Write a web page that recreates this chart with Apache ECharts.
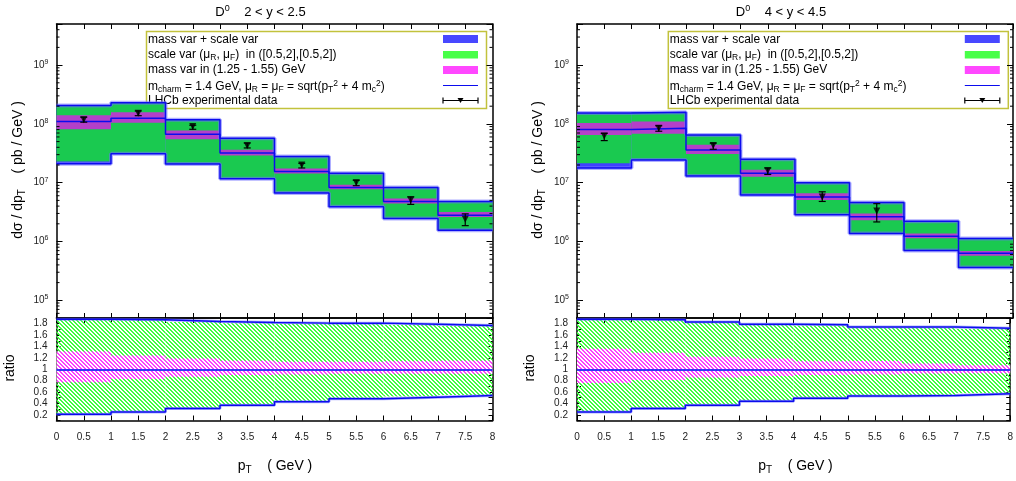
<!DOCTYPE html>
<html>
<head>
<meta charset="utf-8">
<title>D0 pT spectra</title>
<script src="https://cdn.jsdelivr.net/npm/echarts@6/dist/echarts.min.js"></script>
<style>
  html, body { margin: 0; padding: 0; background: #fff; }
  #chart { width: 1016px; height: 481px; }
</style>
</head>
<body>
<div id="chart"></div>
<script>
// pT bins (GeV)
const binEdges = [0, 1, 2, 3, 4, 5, 6, 7, 8];
const binCentres = [0.5, 1.5, 2.5, 3.5, 4.5, 5.5, 6.5, 7.5];

// --- 2 < y < 2.5 (pb / GeV) ---
const centralA = [1.1e8, 1.25e8, 6.7e7, 3.2e7, 1.55e7, 8.3e6, 4.8e6, 2.8e6];
const totalHiA = [2.06e8, 2.3e8, 1.18e8, 5.7e7, 2.8e7, 1.45e7, 8.3e6, 4.8e6];
const totalLoA = [2.1e7, 3.1e7, 2.07e7, 1.17e7, 6.7e6, 3.9e6, 2.45e6, 1.55e6];
const scaleHiA = [2.05e8, 2.29e8, 1.17e8, 5.65e7, 2.78e7, 1.44e7, 8.25e6, 4.75e6];
const scaleLoA = [2.3e7, 3.15e7, 2.1e7, 1.19e7, 6.8e6, 3.95e6, 2.5e6, 1.57e6];
const massHiA = [1.41e8, 1.58e8, 7.7e7, 3.65e7, 1.75e7, 9.2e6, 5.4e6, 3.16e6];
const massLoA = [8.1e7, 1.05e8, 5.5e7, 2.9e7, 1.43e7, 7.7e6, 4.45e6, 2.6e6];
const lhcbA = [1.18e8, 1.52e8, 9.0e7, 4.27e7, 2.0e7, 1.0e7, 5.1e6, 2.4e6];
const lhcbHiA = [1.30e8, 1.66e8, 9.5e7, 4.73e7, 2.14e7, 1.10e7, 5.75e6, 2.95e6];
const lhcbLoA = [1.07e8, 1.38e8, 8.1e7, 3.9e7, 1.78e7, 8.9e6, 4.27e6, 1.86e6];
const ratioTotHiA = [1.88, 1.87, 1.84, 1.82, 1.81, 1.81, 1.79, 1.77];
const ratioTotLoA = [0.21, 0.25, 0.31, 0.37, 0.43, 0.48, 0.51, 0.54];
const ratioScHiA = [1.87, 1.86, 1.83, 1.81, 1.80, 1.80, 1.78, 1.76];
const ratioScLoA = [0.22, 0.26, 0.32, 0.38, 0.44, 0.49, 0.52, 0.55];
const ratioMassHiA = [1.31, 1.24, 1.19, 1.15, 1.13, 1.13, 1.14, 1.15];
const ratioMassLoA = [0.77, 0.83, 0.87, 0.90, 0.91, 0.92, 0.92, 0.92];

// --- 4 < y < 4.5 (pb / GeV) ---
const centralB = [8.0e7, 8.4e7, 3.6e7, 1.45e7, 5.7e6, 2.63e6, 1.23e6, 6.3e5];
const totalHiB = [1.53e8, 1.58e8, 6.5e7, 2.5e7, 1.0e7, 4.6e6, 2.2e6, 1.12e6];
const totalLoB = [1.78e7, 2.43e7, 1.3e7, 6.2e6, 2.86e6, 1.37e6, 7.0e5, 3.6e5];
const scaleHiB = [1.52e8, 1.57e8, 6.45e7, 2.48e7, 9.9e6, 4.55e6, 2.18e6, 1.11e6];
const scaleLoB = [2.15e7, 2.46e7, 1.32e7, 6.3e6, 2.9e6, 1.39e6, 7.1e5, 3.65e5];
const massHiB = [1.04e8, 1.10e8, 4.43e7, 1.66e7, 6.6e6, 3.0e6, 1.37e6, 6.9e5];
const massLoB = [6.5e7, 6.8e7, 3.07e7, 1.26e7, 5.1e6, 2.3e6, 1.14e6, 5.75e5];
const lhcbB = [6.2e7, 8.4e7, 4.3e7, 1.6e7, 5.7e6, 3.3e6];
const lhcbHiB = [6.9e7, 9.3e7, 4.7e7, 1.78e7, 7.0e6, 4.4e6];
const lhcbLoB = [5.2e7, 7.5e7, 3.7e7, 1.38e7, 4.8e6, 2.15e6];
const ratioTotHiB = [1.88, 1.87, 1.83, 1.79, 1.78, 1.74, 1.74, 1.72];
const ratioTotLoB = [0.25, 0.31, 0.37, 0.44, 0.49, 0.53, 0.54, 0.57];
const ratioScHiB = [1.87, 1.86, 1.82, 1.78, 1.77, 1.73, 1.73, 1.71];
const ratioScLoB = [0.26, 0.32, 0.38, 0.45, 0.50, 0.54, 0.55, 0.58];
const ratioMassHiB = [1.36, 1.29, 1.22, 1.19, 1.14, 1.145, 1.10, 1.07];
const ratioMassLoB = [0.76, 0.81, 0.855, 0.88, 0.90, 0.91, 0.925, 0.93];

const titles = ['2 < y < 2.5', '4 < y < 4.5'];
const legendTexts = [
    '{t|mass var + scale var}',
    '{t|scale var (μ}{sub|R}{t|, μ}{sub|F}{t|)  in ([0.5,2],[0.5,2])}',
    '{t|mass var in (1.25 - 1.55) GeV}',
    '{t|m}{sub|charm}{t| = 1.4 GeV, μ}{sub|R}{t| = μ}{sub|F}{t| = sqrt(p}{sub|T}{sup|2}{t| + 4 m}{sub|c}{sup|2}{t|)}',
    '{t|LHCb experimental data}'
];
const logMinorMultipliers = [2, 3, 4, 5, 6, 7, 8, 9];
const logDecades = [1e4, 1e5, 1e6, 1e7, 1e8, 1e9];

const FONT = '"Liberation Sans", Arial, sans-serif';
const BLUE = '#0c0cee';
const HALO = 'rgba(110,110,255,0.55)';
const GREEN = '#1ac950';
const PURPLE = '#b440c8';
const BLUE_FILL = '#4040ff';

const panels = [
    { left: 56.5, central: centralA, totHi: totalHiA, totLo: totalLoA, scHi: scaleHiA, scLo: scaleLoA,
      mHi: massHiA, mLo: massLoA, data: lhcbA, dHi: lhcbHiA, dLo: lhcbLoA,
      rTotHi: ratioTotHiA, rTotLo: ratioTotLoA, rScHi: ratioScHiA, rScLo: ratioScLoA,
      rMHi: ratioMassHiA, rMLo: ratioMassLoA },
    { left: 577, central: centralB, totHi: totalHiB, totLo: totalLoB, scHi: scaleHiB, scLo: scaleLoB,
      mHi: massHiB, mLo: massLoB, data: lhcbB, dHi: lhcbHiB, dLo: lhcbLoB,
      rTotHi: ratioTotHiB, rTotLo: ratioTotLoB, rScHi: ratioScHiB, rScLo: ratioScLoB,
      rMHi: ratioMassHiB, rMLo: ratioMassLoB }
];
const PLOT_W = 436;
const MAIN_TOP = 24, MAIN_H = 294, RATIO_TOP = 318, RATIO_H = 102.5;

function hatch(color, bg) {
    const c = document.createElement('canvas');
    c.width = 4; c.height = 4;
    const ctx = c.getContext('2d');
    if (bg) { ctx.fillStyle = bg; ctx.fillRect(0, 0, 4, 4); }
    ctx.fillStyle = color;
    for (let y = 0; y < 4; y++) {
        for (let x = 0; x < 4; x++) {
            if (((x - y) % 4 + 4) % 4 < 2) ctx.fillRect(x, y, 1, 1);
        }
    }
    return { image: c, repeat: 'repeat' };
}
const greenHatch = hatch('#40ff40', null);
const magentaHatch = hatch('#ff40ff', '#ffffff');

const axisLine = { show: true, onZero: false, lineStyle: { color: '#000', width: 1.5 } };

function xAxes(grid, withLabels) {
    const base = {
        type: 'value', gridIndex: grid, min: 0, max: 8, interval: 0.5,
        splitLine: { show: false }, axisLine,
        axisTick: { show: true, inside: true, length: 5, lineStyle: { color: '#000', width: 1 } }
    };
    return [
        { ...base, position: 'bottom', axisLabel: withLabels
            ? { show: true, margin: 12, fontSize: 10, color: '#222', fontFamily: FONT }
            : { show: false } },
        { ...base, position: 'top', axisLabel: { show: false } }
    ];
}

function powLabel(v) {
    const e = Math.log10(v);
    if (Math.abs(e - Math.round(e)) > 1e-6) return '';
    return '{b|10}{s|' + Math.round(e) + '}';
}

function yLogAxes(grid) {
    const base = {
        type: 'log', logBase: 10, gridIndex: grid, min: 5e4, max: 5e9,
        splitLine: { show: false }, axisLine,
        axisTick: { show: true, inside: true, length: 6, lineStyle: { color: '#000', width: 1 } }
    };
    return [
        { ...base, position: 'left', axisLabel: {
            show: true, margin: 8, formatter: powLabel,
            rich: {
                b: { fontSize: 10, fontFamily: FONT, color: '#222', lineHeight: 13 },
                s: { fontSize: 7, fontFamily: FONT, color: '#222', lineHeight: 7, verticalAlign: 'top' }
            } } },
        { ...base, position: 'right', axisLabel: { show: false } }
    ];
}

function yRatioAxes(grid) {
    const base = {
        type: 'value', gridIndex: grid, min: 0.1, max: 1.9, interval: 0.1,
        splitLine: { show: false }, axisLine,
        axisTick: { show: true, inside: true, length: 4, lineStyle: { color: '#000', width: 1 } }
    };
    return [
        { ...base, position: 'left', axisLabel: {
            show: true, margin: 9, fontSize: 10, color: '#222', fontFamily: FONT,
            formatter: (v) => { const k = Math.round(v * 10); return k % 2 === 0 ? String(k / 10) : ''; } } },
        { ...base, position: 'right', axisLabel: { show: false } }
    ];
}

function bandSeries(grid, lo, hi, fill, z) {
    return {
        type: 'custom', xAxisIndex: 2 * grid, yAxisIndex: 2 * grid, z, silent: true,
        data: lo.map((v, i) => [binEdges[i], binEdges[i + 1], v, hi[i]]),
        encode: { x: [0, 1], y: [2, 3] },
        renderItem(params, api) {
            const p0 = api.coord([api.value(0), api.value(3)]);
            const p1 = api.coord([api.value(1), api.value(2)]);
            return {
                type: 'rect',
                shape: { x: p0[0], y: p0[1], width: p1[0] - p0[0], height: p1[1] - p0[1] },
                style: { fill }
            };
        }
    };
}

function stepSeries(grid, vals, color, width, z, extra) {
    const pts = vals.map((v, i) => [binEdges[i], v]);
    pts.push([binEdges[vals.length], vals[vals.length - 1]]);
    return {
        type: 'line', step: 'end', xAxisIndex: 2 * grid, yAxisIndex: 2 * grid, z, silent: true,
        data: pts, symbol: 'none', lineStyle: { color, width }, ...extra
    };
}

function errorBarSeries(grid, lo, hi) {
    return {
        type: 'custom', xAxisIndex: 2 * grid, yAxisIndex: 2 * grid, z: 20, silent: true,
        data: lo.map((v, i) => [binCentres[i], v, hi[i]]),
        encode: { x: 0, y: [1, 2] },
        renderItem(params, api) {
            const top = api.coord([api.value(0), api.value(2)]);
            const bot = api.coord([api.value(0), api.value(1)]);
            const w = 3.5;
            const st = { stroke: '#000', lineWidth: 1.2 };
            return {
                type: 'group', children: [
                    { type: 'line', shape: { x1: top[0], y1: top[1], x2: bot[0], y2: bot[1] }, style: st },
                    { type: 'line', shape: { x1: top[0] - w, y1: top[1], x2: top[0] + w, y2: top[1] }, style: st },
                    { type: 'line', shape: { x1: bot[0] - w, y1: bot[1], x2: bot[0] + w, y2: bot[1] }, style: st }
                ]
            };
        }
    };
}

function minorTickSeries(grid) {
    const vals = [];
    logDecades.forEach((d) => logMinorMultipliers.forEach((m) => {
        const v = m * d;
        if (v > 5e4 && v < 5e9) vals.push([0, v]);
    }));
    return {
        type: 'custom', xAxisIndex: 2 * grid, yAxisIndex: 2 * grid, z: 30, silent: true,
        data: vals,
        renderItem(params, api) {
            const cs = params.coordSys;
            const y = api.coord([0, api.value(1)])[1];
            const st = { stroke: '#000', lineWidth: 1 };
            return {
                type: 'group', children: [
                    { type: 'line', shape: { x1: cs.x, y1: y, x2: cs.x + 3, y2: y }, style: st },
                    { type: 'line', shape: { x1: cs.x + cs.width - 3, y1: y, x2: cs.x + cs.width, y2: y }, style: st }
                ]
            };
        }
    };
}

const grid = [], xAxis = [], yAxis = [], series = [], graphic = [];

const textRich = {
    t: { fontSize: 12, fontFamily: FONT, color: '#000', lineHeight: 15 },
    sub: { fontSize: 8.5, fontFamily: FONT, color: '#000', lineHeight: 9, verticalAlign: 'bottom' },
    sup: { fontSize: 8.5, fontFamily: FONT, color: '#000', lineHeight: 9, verticalAlign: 'top' }
};
const nameRich = {
    t: { fontSize: 14, fontFamily: FONT, color: '#000', lineHeight: 18 },
    sub: { fontSize: 10, fontFamily: FONT, color: '#000', lineHeight: 10, verticalAlign: 'bottom' },
    sup: { fontSize: 10, fontFamily: FONT, color: '#000', lineHeight: 10, verticalAlign: 'top' }
};

function legendGroup(x0) {
    const y0 = 31.5;
    const ix = x0 + 296.5, iw = 35;
    const kids = [
        { type: 'rect', shape: { x: x0, y: y0, width: 340, height: 77 },
          style: { fill: 'none', stroke: '#c2c23c', lineWidth: 1.5 } },
        { type: 'rect', shape: { x: ix, y: y0 + 3.5, width: iw, height: 8 }, style: { fill: '#4848ff' } },
        { type: 'rect', shape: { x: ix, y: y0 + 19.5, width: iw, height: 7.5 }, style: { fill: '#48ff48' } },
        { type: 'rect', shape: { x: ix, y: y0 + 34.5, width: iw, height: 8 }, style: { fill: '#ff48ff' } },
        { type: 'line', shape: { x1: ix, y1: y0 + 54, x2: ix + iw, y2: y0 + 54 }, style: { stroke: BLUE, lineWidth: 1 } },
        { type: 'line', shape: { x1: ix, y1: y0 + 69, x2: ix + iw, y2: y0 + 69 }, style: { stroke: '#000', lineWidth: 1.2 } },
        { type: 'line', shape: { x1: ix, y1: y0 + 66, x2: ix, y2: y0 + 72 }, style: { stroke: '#000', lineWidth: 1.2 } },
        { type: 'line', shape: { x1: ix + iw, y1: y0 + 66, x2: ix + iw, y2: y0 + 72 }, style: { stroke: '#000', lineWidth: 1.2 } },
        { type: 'polygon', shape: { points: [[ix + iw / 2 - 3, y0 + 66.5], [ix + iw / 2 + 3, y0 + 66.5], [ix + iw / 2, y0 + 71.5]] },
          style: { fill: '#000' } }
    ];
    const rows = [8.5, 23.5, 38.5, 55, 69.5];
    legendTexts.forEach((t, i) => {
        kids.push({ type: 'text', x: x0 + 1.5, y: y0 + rows[i],
            style: { text: t, rich: textRich, textVerticalAlign: 'middle', textAlign: 'left' } });
    });
    return { type: 'group', z: 100, children: kids };
}

panels.forEach((p, k) => {
    const gm = 2 * k, gr = 2 * k + 1;
    grid.push({ left: p.left, top: MAIN_TOP, width: PLOT_W, height: MAIN_H });
    grid.push({ left: p.left, top: RATIO_TOP, width: PLOT_W, height: RATIO_H });
    xAxis.push(...xAxes(gm, false), ...xAxes(gr, true));
    yAxis.push(...yLogAxes(gm), ...yRatioAxes(gr));

    // main plot
    series.push(bandSeries(gm, p.totLo, p.totHi, BLUE_FILL, 2));
    series.push(bandSeries(gm, p.scLo, p.scHi, GREEN, 3));
    series.push(bandSeries(gm, p.mLo, p.mHi, PURPLE, 4));
    series.push(stepSeries(gm, p.totHi, HALO, 4, 5));
    series.push(stepSeries(gm, p.totLo, HALO, 4, 5));
    series.push(stepSeries(gm, p.totHi, BLUE, 1.5, 6));
    series.push(stepSeries(gm, p.totLo, BLUE, 1.5, 6));
    series.push(stepSeries(gm, p.central, BLUE, 1.5, 7));
    series.push(errorBarSeries(gm, p.dLo, p.dHi));
    series.push({
        type: 'scatter', xAxisIndex: 2 * gm, yAxisIndex: 2 * gm, z: 21, silent: true,
        data: p.data.map((v, i) => [binCentres[i], v]),
        symbol: 'triangle', symbolRotate: 180, symbolSize: 7, itemStyle: { color: '#000' }
    });
    series.push(minorTickSeries(gm));

    // ratio plot
    series.push(bandSeries(gr, p.rScLo, p.rScHi, greenHatch, 2));
    series.push(bandSeries(gr, p.rMLo, p.rMHi, magentaHatch, 3));
    series.push(stepSeries(gr, p.rTotHi, HALO, 3, 5));
    series.push(stepSeries(gr, p.rTotLo, HALO, 3, 5));
    series.push(stepSeries(gr, p.rTotHi, BLUE, 1.5, 6));
    series.push(stepSeries(gr, p.rTotLo, BLUE, 1.5, 6, {
        markLine: { silent: true, symbol: 'none', label: { show: false },
            lineStyle: { color: '#3434f4', width: 1.8, type: 'solid' }, data: [{ yAxis: 1 }] }
    }));

    const cx = p.left + PLOT_W / 2;
    graphic.push({ type: 'text', x: cx - 14, y: 12, z: 100,
        style: { text: '{t|D}{sup|0}{t|    ' + titles[k] + '}',
            rich: { t: { fontSize: 13, fontFamily: FONT, color: '#000', lineHeight: 16 },
                    sup: { fontSize: 9, fontFamily: FONT, color: '#000', lineHeight: 9, verticalAlign: 'top' } },
            textAlign: 'center', textVerticalAlign: 'middle' } });
    graphic.push(legendGroup(p.left + 90 + (k === 1 ? 1.3 : 0)));
    graphic.push({ type: 'text', x: p.left - 38.5, y: 170, rotation: Math.PI / 2, z: 100,
        style: { text: '{t|dσ / dp}{sub|T}{t|    ( pb / GeV )}', rich: nameRich,
            textAlign: 'center', textVerticalAlign: 'middle' } });
    graphic.push({ type: 'text', x: p.left - 46.5, y: 368, rotation: Math.PI / 2, z: 100,
        style: { text: '{t|ratio}', rich: nameRich, textAlign: 'center', textVerticalAlign: 'middle' } });
    graphic.push({ type: 'text', x: cx + 0.5, y: 466, z: 100,
        style: { text: '{t|p}{sub|T}{t|    ( GeV )}', rich: nameRich,
            textAlign: 'center', textVerticalAlign: 'middle' } });
});

const chart = echarts.init(document.getElementById('chart'), null, { renderer: 'canvas' });
chart.setOption({
    animation: false,
    backgroundColor: '#fff',
    textStyle: { fontFamily: FONT },
    grid, xAxis, yAxis, series, graphic
});
</script>
</body>
</html>
